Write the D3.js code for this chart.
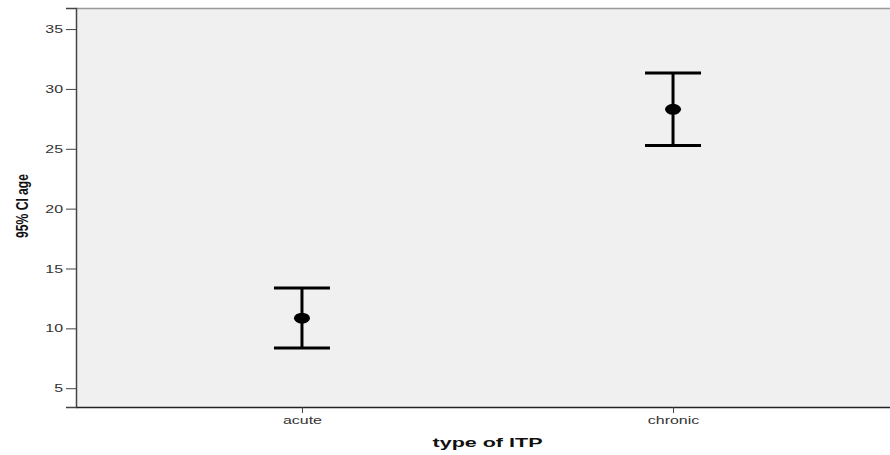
<!DOCTYPE html>
<html>
<head>
<meta charset="utf-8">
<script src="https://cdn.jsdelivr.net/npm/d3@7"></script>
<style>
  html, body { margin: 0; background: #fff; overflow: hidden; }
  svg { display: block; overflow: hidden; }
</style>
</head>
<body>
<svg id="chart" width="890" height="455"></svg>
<script>
// Chart data
const categories = ["acute", "chronic"];
const means = [10.85, 28.3];
const lowerCI = [8.35, 25.28];
const upperCI = [13.37, 31.34];
const yTicks = [5, 10, 15, 20, 25, 30, 35];

const WIDTH = 890;
const HEIGHT = 455;
// Plot area (right edge runs off the picture like in the original)
const margin = { left: 76, top: 8, right: -9, bottom: 48 };
// The original's text is drawn wide, so labels get stretched sideways
const STRETCH = 1.45;

const svg = d3.select("#chart");

const x = d3
  .scalePoint()
  .domain(categories)
  .range([margin.left, WIDTH - margin.right])
  .padding(0.609);

const y = d3
  .scaleLinear()
  .domain([3.43, 36.76])
  .range([HEIGHT - margin.bottom, margin.top]);

// Grey plot background
svg
  .append("rect")
  .attr("x", margin.left)
  .attr("y", margin.top)
  .attr("width", WIDTH - margin.right - margin.left)
  .attr("height", HEIGHT - margin.bottom - margin.top)
  .attr("fill", "#f0f0f0")
  .attr("stroke", "none");

// Top border
svg
  .append("line")
  .attr("x1", margin.left)
  .attr("x2", WIDTH + 20)
  .attr("y1", margin.top + 0.5)
  .attr("y2", margin.top + 0.5)
  .attr("stroke", "#999")
  .attr("stroke-width", 1.5);

// Y axis
const yAxis = svg
  .append("g")
  .attr("transform", `translate(${margin.left},0)`)
  .call(d3.axisLeft(y).tickValues(yTicks).tickSize(10).tickPadding(3));
yAxis.select(".domain").attr("stroke", "#444").attr("stroke-width", 1.5);
yAxis.selectAll(".tick line").attr("stroke", "#444");
yAxis
  .selectAll(".tick text")
  .attr("x", -13 / STRETCH)
  .attr("transform", `scale(${STRETCH},1)`)
  .attr("fill", "#333")
  .style("font-family", "Arial, 'Liberation Sans', sans-serif")
  .style("font-size", "11px");

// X axis
const xAxis = svg
  .append("g")
  .attr("transform", `translate(0,${HEIGHT - margin.bottom})`)
  .call(d3.axisBottom(x).tickSize(6).tickSizeOuter(0).tickPadding(3));
xAxis.select(".domain").attr("stroke", "#222").attr("stroke-width", 1.5);
xAxis.selectAll(".tick line").attr("stroke", "#444");
xAxis
  .selectAll(".tick text")
  .attr("transform", `scale(${STRETCH},1)`)
  .attr("fill", "#333")
  .style("font-family", "Arial, 'Liberation Sans', sans-serif")
  .style("font-size", "11px");

// Axis titles
svg
  .append("text")
  .text("type of ITP")
  .attr("x", 487.5)
  .attr("y", 447)
  .attr("text-anchor", "middle")
  .attr("textLength", 110)
  .attr("lengthAdjust", "spacingAndGlyphs")
  .style("font-family", "Arial, 'Liberation Sans', sans-serif")
  .style("font-weight", "bold")
  .style("font-size", "13px")
  .attr("fill", "#111");

svg
  .append("text")
  .text("95% CI age")
  .attr("transform", "translate(28,206) rotate(-90)")
  .attr("text-anchor", "middle")
  .attr("textLength", 64)
  .attr("lengthAdjust", "spacingAndGlyphs")
  .style("font-family", "Arial, 'Liberation Sans', sans-serif")
  .style("font-weight", "bold")
  .style("font-size", "16px")
  .attr("fill", "#111");

// Error bars
const capHalf = 28;
const bars = svg
  .append("g")
  .selectAll("g")
  .data(categories)
  .enter()
  .append("g");

bars
  .append("line")
  .attr("x1", (d) => x(d))
  .attr("x2", (d) => x(d))
  .attr("y1", (d, i) => y(lowerCI[i]))
  .attr("y2", (d, i) => y(upperCI[i]))
  .attr("stroke", "#000")
  .attr("stroke-width", 3);

bars
  .append("line")
  .attr("x1", (d) => x(d) - capHalf)
  .attr("x2", (d) => x(d) + capHalf)
  .attr("y1", (d, i) => y(upperCI[i]))
  .attr("y2", (d, i) => y(upperCI[i]))
  .attr("stroke", "#000")
  .attr("stroke-width", 3);

bars
  .append("line")
  .attr("x1", (d) => x(d) - capHalf)
  .attr("x2", (d) => x(d) + capHalf)
  .attr("y1", (d, i) => y(lowerCI[i]))
  .attr("y2", (d, i) => y(lowerCI[i]))
  .attr("stroke", "#000")
  .attr("stroke-width", 3);

// Mean markers
bars
  .append("ellipse")
  .attr("cx", (d) => x(d))
  .attr("cy", (d, i) => y(means[i]))
  .attr("rx", 8)
  .attr("ry", 5.5)
  .attr("fill", "#000");
</script>
</body>
</html>
